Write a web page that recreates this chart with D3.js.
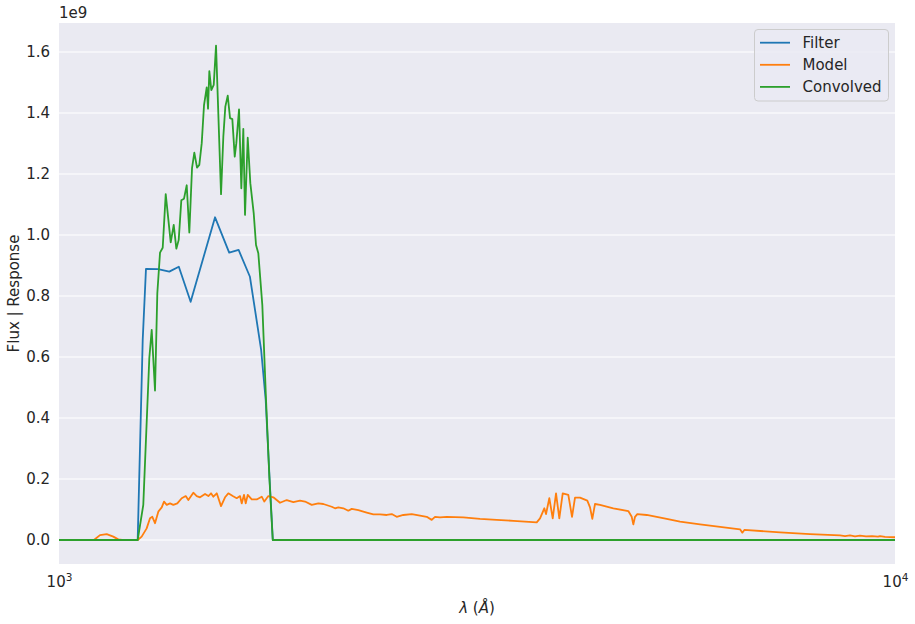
<!DOCTYPE html>
<html>
<head>
<meta charset="utf-8">
<script src="https://cdn.jsdelivr.net/npm/d3@7"></script>
<style>
  body { margin: 0; background: #fff; }
  svg text { font-family: "DejaVu Sans", sans-serif; fill: #262626; }
</style>
</head>
<body>
<div id="chart"></div>
<script>
// values in units of 1e9
var filterWave = [1000, 1242, 1259.3, 1270.7, 1314, 1355, 1391, 1437, 1537, 1598, 1640, 1692, 1716, 1745, 1767, 1788, 1802, 10000];
var filterFlux = [0, 0, 0.656, 0.889, 0.888, 0.880, 0.896, 0.781, 1.058, 0.942, 0.951, 0.863, 0.754, 0.623, 0.459, 0.175, 0, 0];

var modelWave = [1000, 1101, 1119.5, 1140.4, 1161.3, 1177.4, 1189.5, 1242, 1255.7, 1273.1, 1284.9, 1293.1, 1302.7, 1314.6, 1327, 1335.4,
  1345.4, 1357.7, 1370.1, 1385.2, 1402.1, 1417.7, 1427.9, 1447.7, 1461.3, 1474.7, 1495.2, 1508.9, 1520.1, 1529.8, 1544.2,
  1562.5, 1579.8, 1594.2, 1613.7, 1631.5, 1646.4, 1654.1, 1664.6, 1672.4, 1681.7, 1700.3, 1723.9, 1747.8, 1760.4, 1779.9,
  1804.6, 1838.2, 1872.4, 1906.8, 1942.3, 1969.2, 2005.9, 2042.7, 2071, 2119.5, 2138.8, 2158.4, 2188.3, 2218.7, 2239.5,
  2280.6, 2334, 2376.8, 2421, 2466.1, 2500.3, 2534.9, 2581.4, 2641.9, 2703, 2753.3, 2791.5, 2817, 2856, 2909.2, 3045.3,
  3188.7, 3338.8, 3494.9, 3727.6, 3761.7, 3806.5, 3824.4, 3859.3, 3895.6, 3931.2, 3967, 4004.4, 4066.6, 4108.3, 4142.3,
  4199.8, 4285.1, 4317.1, 4344.5, 4376.9, 4437.6, 4603.2, 4797.3, 4842.5, 4863.8, 4886.7, 4917.7, 5046.6, 5332.4, 5531.4,
  5845, 6526, 6567.5, 6603.9, 7286, 7913, 8595, 8714, 8835, 8957, 9081, 9233, 9386, 9543, 9596, 9729, 10000];
var modelFlux = [0, 0, 0.016, 0.019, 0.011, 0.002, 0, 0, 0.011, 0.038, 0.071, 0.076, 0.055, 0.093, 0.107, 0.126,
  0.115, 0.120, 0.115, 0.120, 0.137, 0.144, 0.131, 0.155, 0.144, 0.140, 0.151, 0.144, 0.153, 0.142, 0.153,
  0.111, 0.140, 0.153, 0.144, 0.137, 0.144, 0.120, 0.148, 0.120, 0.148, 0.133, 0.133, 0.142, 0.126, 0.144,
  0.140, 0.122, 0.131, 0.124, 0.129, 0.126, 0.115, 0.120, 0.118, 0.109, 0.104, 0.107, 0.104, 0.096, 0.102,
  0.098, 0.090, 0.084, 0.084, 0.082, 0.085, 0.076, 0.082, 0.085, 0.080, 0.076, 0.066, 0.076, 0.074, 0.076, 0.074,
  0.069, 0.066, 0.063, 0.058, 0.071, 0.104, 0.085, 0.137, 0.071, 0.153, 0.071, 0.153, 0.148, 0.076, 0.139,
  0.139, 0.129, 0.107, 0.069, 0.118, 0.115, 0.104, 0.095, 0.076, 0.051, 0.076, 0.085, 0.082, 0.069, 0.060,
  0.051, 0.035, 0.024, 0.033, 0.025, 0.019, 0.015, 0.013, 0.015, 0.012, 0.014, 0.012, 0.013, 0.011, 0.013, 0.010, 0.009];

var convWave = [1000, 1242, 1261.3, 1282.4, 1290.9, 1302.7, 1311, 1320.8, 1330.6, 1341.7, 1360.3, 1371.6, 1381.5, 1390.6,
  1400.6, 1411, 1421.6, 1431.8, 1442.5, 1451.7, 1462.5, 1471.8, 1481.6, 1491, 1502.1, 1507.5, 1512.9, 1521.3, 1531.4,
  1541.1, 1562.5, 1572.4, 1581.1, 1591.6, 1601.7, 1611.9, 1622.6, 1629.7, 1641.9, 1652.3, 1661.4, 1669.2, 1681.7,
  1693.8, 1709.7, 1720.6, 1731.5, 1750.7, 1768.7, 1784.9, 1801.7, 10000];
var convFlux = [0, 0, 0.115, 0.596, 0.689, 0.490, 0.809, 0.942, 0.958, 1.134, 0.976, 1.033, 0.955, 0.984,
  1.114, 1.119, 1.163, 1.008, 1.219, 1.270, 1.221, 1.230, 1.301, 1.426, 1.484, 1.414, 1.537, 1.475, 1.492,
  1.621, 1.134, 1.322, 1.421, 1.457, 1.383, 1.380, 1.257, 1.301, 1.412, 1.153, 1.348, 1.066, 1.319,
  1.170, 1.071, 0.967, 0.940, 0.770, 0.459, 0.207, 0, 0];

var seriesNames = ["Filter", "Model", "Convolved"];
var seriesColors = ["#1f77b4", "#ff7f0e", "#2ca02c"];
var yTicks = [0, 0.2, 0.4, 0.6, 0.8, 1.0, 1.2, 1.4, 1.6];
var xTicks = [1000, 10000];

var W = 915, H = 624;
var pLeft = 59, pRight = 895, pTop = 23, pBottom = 564;

var svg = d3.select("#chart").append("svg")
  .attr("width", W)
  .attr("height", H);

var x = d3.scaleLog().domain([1000, 10000]).range([pLeft, pRight]);
var y = d3.scaleLinear().domain([-0.0787, 1.695]).range([pBottom, pTop]);

svg.append("rect")
  .attr("x", pLeft).attr("y", pTop)
  .attr("width", pRight - pLeft).attr("height", pBottom - pTop)
  .attr("fill", "#eaeaf2");

svg.append("clipPath").attr("id", "clip")
  .append("rect")
  .attr("x", pLeft).attr("y", pTop)
  .attr("width", pRight - pLeft).attr("height", pBottom - pTop);

// grid
svg.append("g").selectAll("line")
  .data(yTicks)
  .enter().append("line")
  .attr("x1", pLeft).attr("x2", pRight)
  .attr("y1", function(d){ return y(d); })
  .attr("y2", function(d){ return y(d); })
  .attr("stroke", "#fff")
  .attr("stroke-width", 1.1);

// y axis labels
var yAxis = d3.axisLeft(y).tickValues(yTicks).tickSize(0).tickPadding(9)
  .tickFormat(function(d){ return d.toFixed(1); });
var gy = svg.append("g").attr("transform", "translate(" + pLeft + ",0)").call(yAxis);
gy.select(".domain").remove();
gy.selectAll("text").style("font-size", "15px").style("font-family", "DejaVu Sans").attr("fill", "#262626");

// x axis labels 10^n
var xAxis = d3.axisBottom(x).tickValues(xTicks).tickSize(0).tickFormat("");
var gx = svg.append("g").attr("transform", "translate(0," + pBottom + ")").call(xAxis);
gx.select(".domain").remove();
gx.selectAll(".tick").append("text")
  .attr("y", 23)
  .attr("text-anchor", "middle")
  .style("font-size", "15px")
  .attr("fill", "#262626")
  .each(function(d){
    var t = d3.select(this);
    t.append("tspan").text("10");
    t.append("tspan").attr("dy", -6).style("font-size", "10.5px").text(Math.round(Math.log10(d)));
  });

// offset text
svg.append("text")
  .attr("x", pLeft).attr("y", 18)
  .style("font-size", "15px")
  .text("1e9");

// axis titles
var xl = svg.append("text")
  .attr("x", (pLeft + pRight) / 2).attr("y", 613)
  .attr("text-anchor", "middle")
  .style("font-size", "15px");
xl.append("tspan").style("font-style", "italic").text("λ");
xl.append("tspan").text(" (");
xl.append("tspan").style("font-style", "italic").text("Å");
xl.append("tspan").text(")");

svg.append("text")
  .attr("transform", "translate(19," + ((pTop + pBottom) / 2) + ") rotate(-90)")
  .attr("text-anchor", "middle")
  .style("font-size", "15px")
  .text("Flux | Response");

// lines
var series = [
  { wave: filterWave, flux: filterFlux },
  { wave: modelWave, flux: modelFlux },
  { wave: convWave, flux: convFlux }
];

var line = d3.line()
  .x(function(d){ return x(d[0]); })
  .y(function(d){ return y(d[1]); });

svg.append("g").attr("clip-path", "url(#clip)")
  .selectAll("path")
  .data(series)
  .enter().append("path")
  .attr("d", function(s){ return line(d3.zip(s.wave, s.flux)); })
  .attr("fill", "none")
  .attr("stroke", function(d, i){ return seriesColors[i]; })
  .attr("stroke-width", 1.8)
  .attr("stroke-linejoin", "round");

// legend
var lg = svg.append("g").attr("transform", "translate(754.5,29.5)");
lg.append("rect")
  .attr("width", 134).attr("height", 71.5)
  .attr("rx", 3.5)
  .attr("fill", "#eaeaf2")
  .attr("fill-opacity", 0.8)
  .attr("stroke", "#cccccc")
  .attr("stroke-width", 1);

var item = lg.selectAll("g.item")
  .data(seriesNames)
  .enter().append("g")
  .attr("class", "item")
  .attr("transform", function(d, i){ return "translate(0," + (13.2 + i * 22.1) + ")"; });

item.append("line")
  .attr("x1", 5.5).attr("x2", 35.5)
  .attr("stroke", function(d, i){ return seriesColors[i]; })
  .attr("stroke-width", 1.8);

item.append("text")
  .attr("x", 48).attr("dy", "0.36em")
  .style("font-size", "15px")
  .text(function(d){ return d; });
</script>
</body>
</html>
